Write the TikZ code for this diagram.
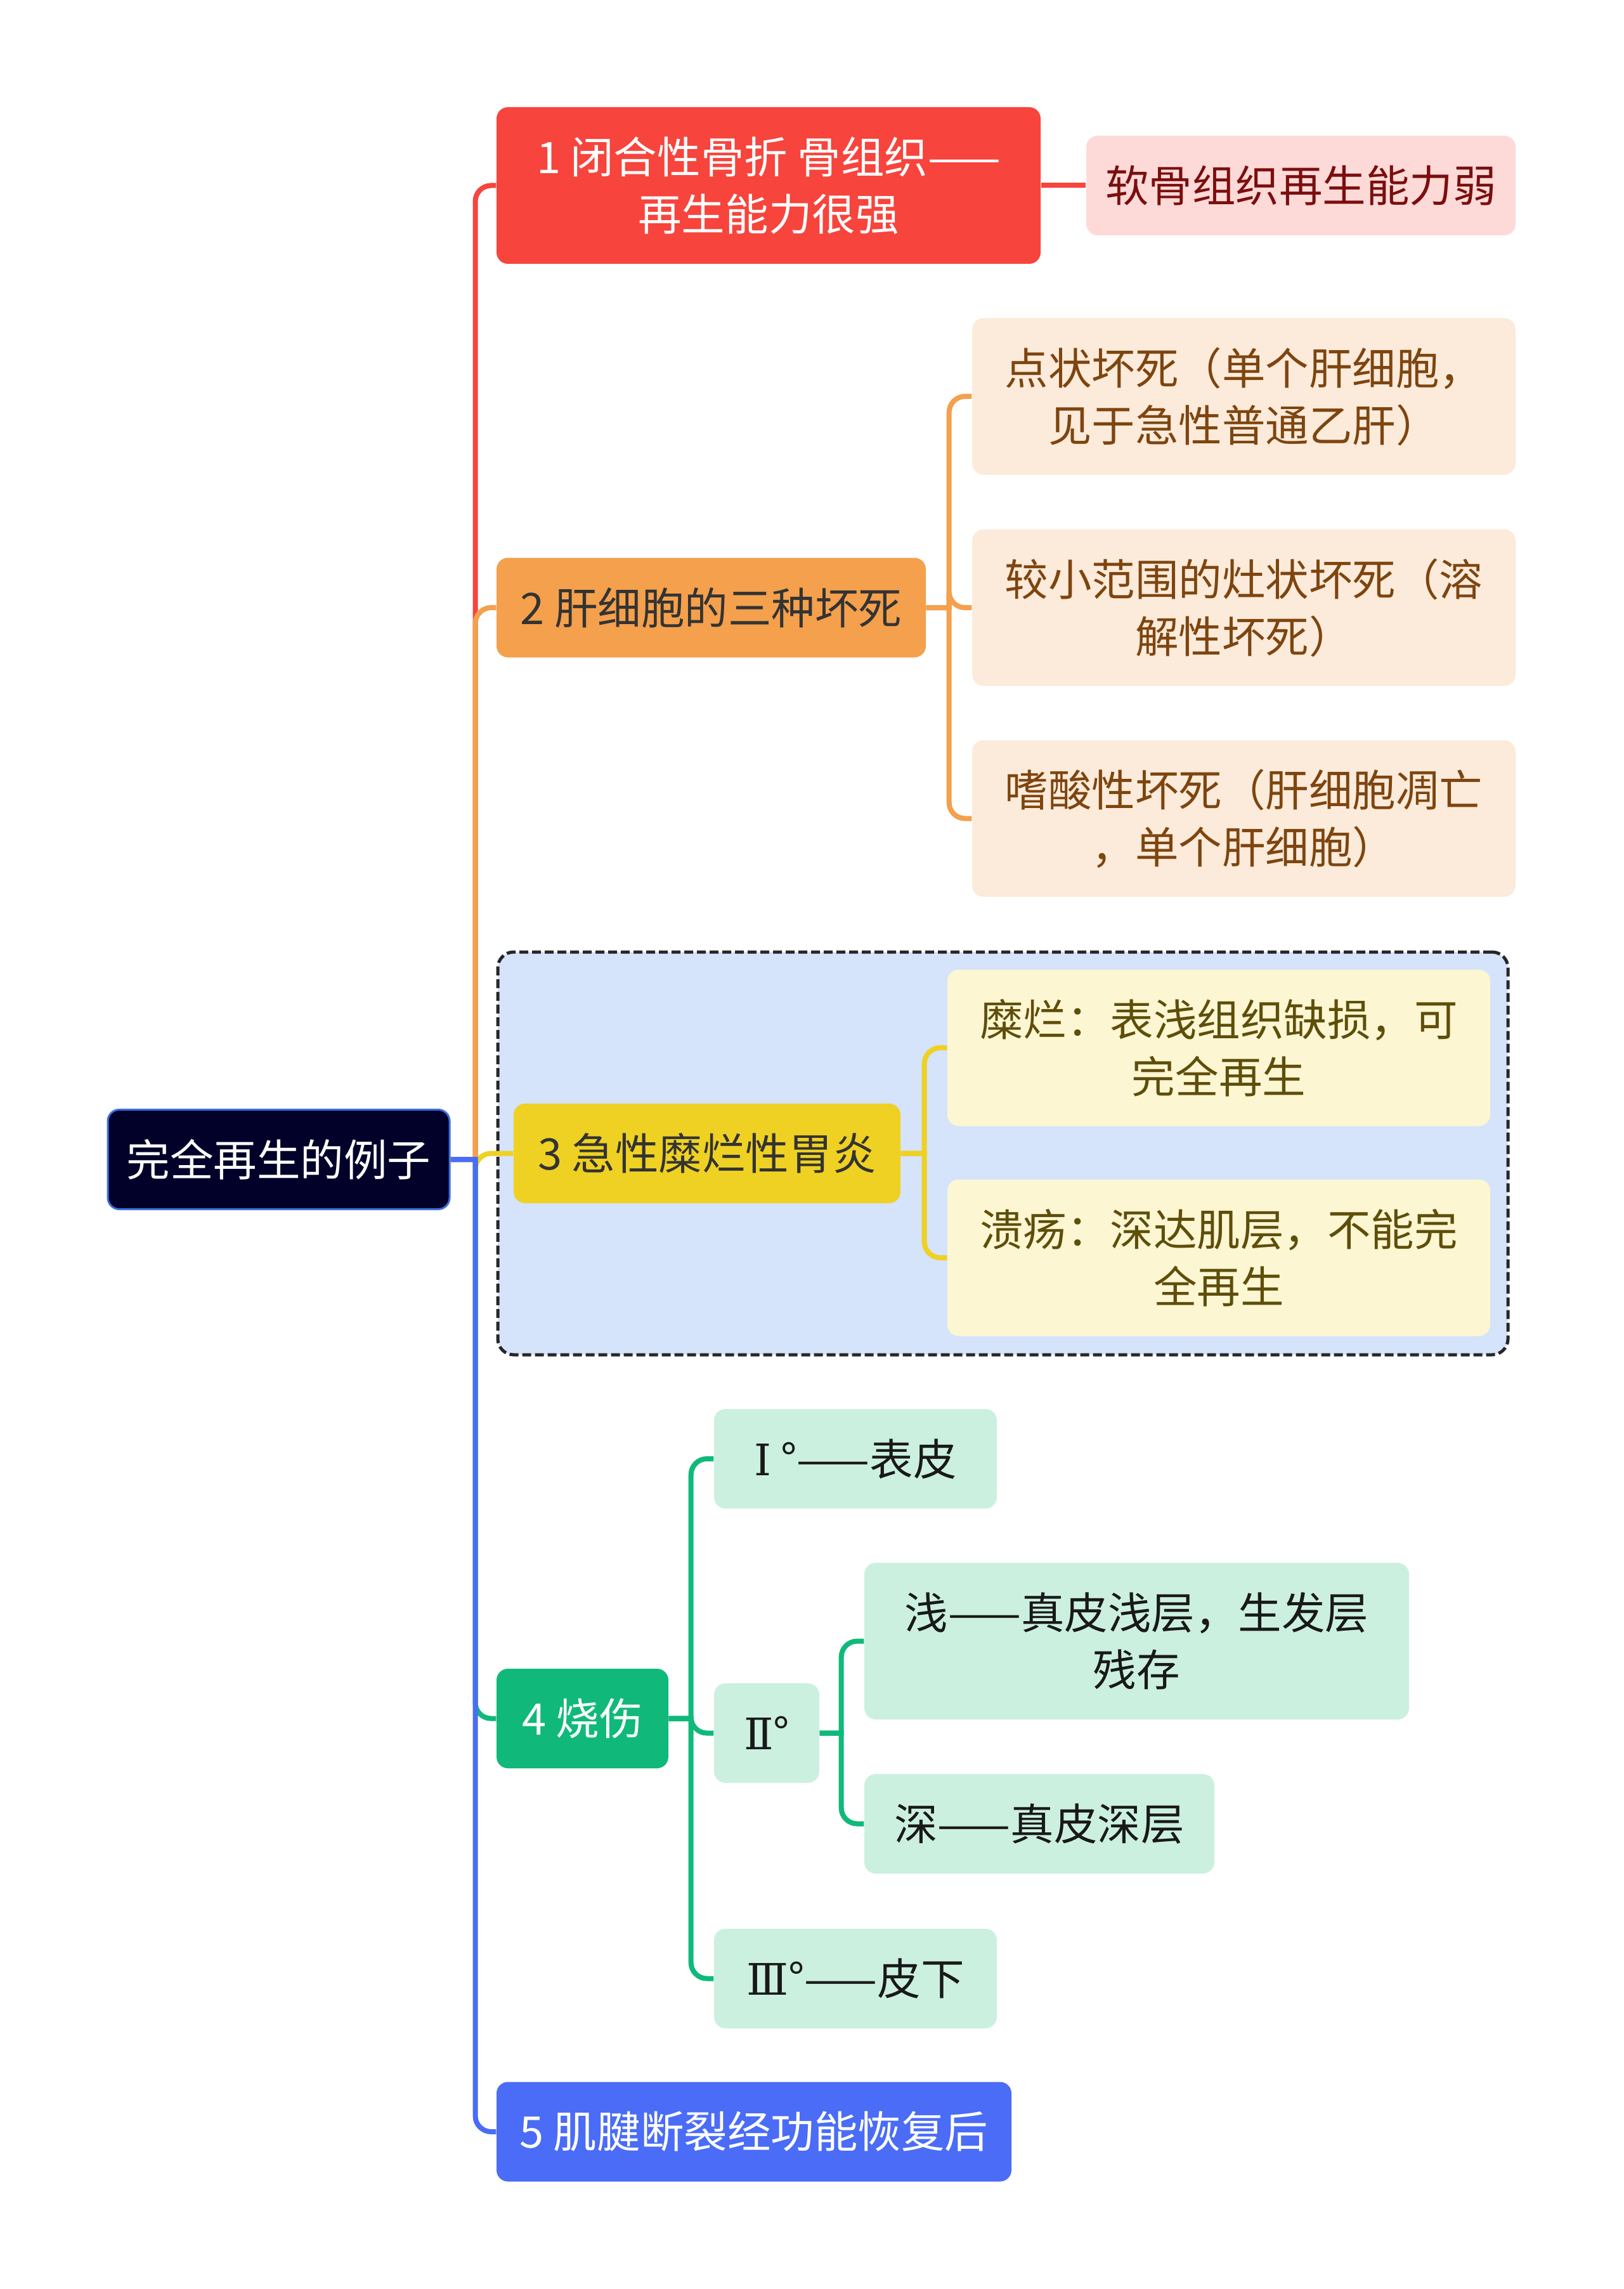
\documentclass[tikz,border=0pt]{standalone}
\usepackage{fontspec}
\setmainfont{Noto Sans CJK SC}
\newfontfamily\numeralfont{DejaVu Serif}
\usepackage{tikz}
\usetikzlibrary{positioning}

\definecolor{rootfill}{HTML}{01012A}
\definecolor{rootline}{HTML}{3D6FE0}
\definecolor{redc}{HTML}{F7443C}
\definecolor{orangec}{HTML}{F4A04C}
\definecolor{yellowc}{HTML}{EFD123}
\definecolor{greenc}{HTML}{10B97A}
\definecolor{bluec}{HTML}{4A6CF6}
\definecolor{pinkfill}{HTML}{FDDAD8}
\definecolor{peachfill}{HTML}{FCEBDA}
\definecolor{lemonfill}{HTML}{FCF6D2}
\definecolor{mintfill}{HTML}{CCF0E0}
\definecolor{groupfill}{HTML}{D5E3FB}
\definecolor{darktext}{HTML}{333333}
\definecolor{redtext}{HTML}{7B0E0E}
\definecolor{browntext}{HTML}{7E4510}
\definecolor{olivetext}{HTML}{5E4E0A}

\begin{document}
\begin{tikzpicture}[font=\fontsize{19.5pt}{25.6pt}\selectfont]
	\tikzstyle{box}=[rounded corners=0.18cm, inner sep=0pt, align=center, minimum height=1.57cm]
	\tikzstyle{tall}=[minimum height=2.47cm]
	\tikzstyle{link}=[line width=0.08cm]
	\useasboundingbox (0,0) rectangle (25.6,-36.09);
	% dashed frame round branch 3
	\node[draw=black!85, dash pattern=on 0.14cm off 0.06cm, line width=0.05cm, fill=groupfill, rounded corners=0.25cm, minimum width=15.93cm, minimum height=6.35cm] (frame) at (15.815,-18.185) {};
	% root
	\node[box, fill=rootfill, draw=rootline, line width=0.03cm, minimum width=5.39cm, text=white] (root) at (4.395,-18.28) {完全再生的例子};
	% main branches
	\node[box, tall, fill=redc, minimum width=8.58cm, text=white] (closed) at (12.12,-2.925) {1 闭合性骨折 骨组织——\\再生能力很强};
	\node[box, fill=orangec, minimum width=6.77cm, text=darktext] (liver) at (11.215,-9.58) {2 肝细胞的三种坏死};
	\node[box, fill=yellowc, minimum width=6.10cm, text=darktext] (gastritis) at (11.15,-18.185) {3 急性糜烂性胃炎};
	\node[box, fill=greenc, minimum width=2.71cm, text=white] (burn) at (9.185,-27.095) {4 烧伤};
	\node[box, fill=bluec, minimum width=8.12cm, text=white] (tendon) at (11.89,-33.61) {5 肌腱断裂经功能恢复后};
	% leaves
	\node[box, fill=pinkfill, minimum width=6.77cm, text=redtext] (cartilage) at (20.515,-2.925) {软骨组织再生能力弱};
	\node[box, tall, fill=peachfill, minimum width=8.57cm, text=browntext] (spotty) at (19.615,-6.25) {点状坏死（单个肝细胞，\\见于急性普通乙肝）};
	\node[box, tall, fill=peachfill, minimum width=8.57cm, text=browntext] (focal) at (19.615,-9.58) {较小范围的灶状坏死（溶\\解性坏死）};
	\node[box, tall, fill=peachfill, minimum width=8.57cm, text=browntext] (acidophil) at (19.615,-12.905) {嗜酸性坏死（肝细胞凋亡\\，单个肝细胞）};
	\node[box, tall, fill=lemonfill, minimum width=8.56cm, text=olivetext] (erosion) at (19.22,-16.52) {糜烂：表浅组织缺损，可\\完全再生};
	\node[box, tall, fill=lemonfill, minimum width=8.56cm, text=olivetext] (ulcer) at (19.22,-19.83) {溃疡：深达肌层，不能完\\全再生};
	\node[box, fill=mintfill, minimum width=4.46cm, text=black!90] (first) at (13.49,-23.0) {{\numeralfont Ⅰ}~°——表皮};
	\node[box, fill=mintfill, minimum width=1.66cm, text=black!90] (second) at (12.09,-27.325) {{\numeralfont Ⅱ}°};
	\node[box, fill=mintfill, minimum width=4.46cm, text=black!90] (third) at (13.49,-31.195) {{\numeralfont Ⅲ}°——皮下};
	\node[box, tall, fill=mintfill, minimum width=8.59cm, text=black!90] (shallow) at (17.925,-25.875) {浅——真皮浅层，生发层\\残存};
	\node[box, fill=mintfill, minimum width=5.52cm, text=black!90] (deep) at (16.39,-28.755) {深——真皮深层};
	% trunk from the root
	\draw[link, redc] (root.east) -- ++(0.39,0) [rounded corners=0.25cm] |- (closed.west);
	\draw[link, orangec] (root.east) -- ++(0.39,0) [rounded corners=0.25cm] |- (liver.west);
	\draw[link, yellowc] (root.east) -- ++(0.39,0) [rounded corners=0.25cm] |- (gastritis.west);
	\draw[link, greenc] (root.east) -- ++(0.39,0) [rounded corners=0.25cm] |- (burn.west);
	\draw[link, bluec] (root.east) -- ++(0.39,0) [rounded corners=0.25cm] |- (tendon.west);
	% sub branches
	\draw[link, redc] (closed.east) -- (cartilage.west);
	\foreach \leaf in {spotty,focal,acidophil}
		\draw[link, orangec] (liver.east) -- ++(0.36,0) [rounded corners=0.25cm] |- (\leaf.west);
	\foreach \leaf in {erosion,ulcer}
		\draw[link, yellowc] (gastritis.east) -- ++(0.37,0) [rounded corners=0.25cm] |- (\leaf.west);
	\foreach \leaf in {first,second,third}
		\draw[link, greenc] (burn.east) -- ++(0.35,0) [rounded corners=0.25cm] |- (\leaf.west);
	\foreach \leaf in {shallow,deep}
		\draw[link, greenc] (second.east) -- ++(0.34,0) [rounded corners=0.25cm] |- (\leaf.west);
\end{tikzpicture}
\end{document}
